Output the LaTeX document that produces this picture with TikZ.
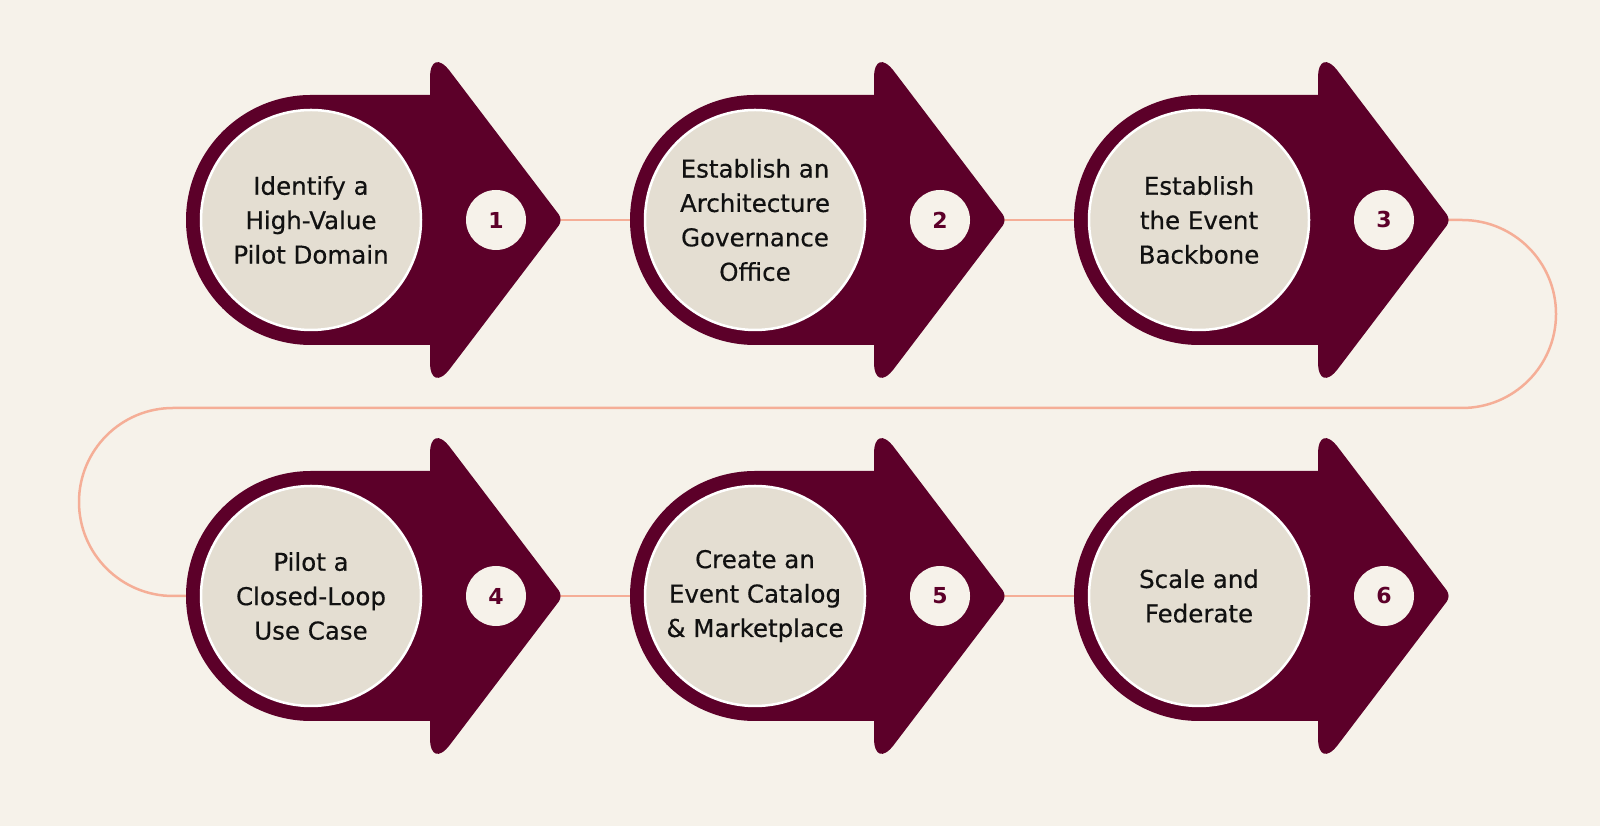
\documentclass[tikz,border=0pt]{standalone}
\usepackage{fontspec}
\setmainfont{DejaVu Sans}
\newfontfamily\stepfont{DejaVu Sans}[FakeBold=0.5]
\usepackage{tikz}
\usetikzlibrary{shapes,positioning,backgrounds}

\definecolor{Wine}{HTML}{5C0029}
\definecolor{Paper}{HTML}{F6F2EA}
\definecolor{Sand}{HTML}{E4DED2}
\definecolor{Salmon}{HTML}{F5AE97}
\definecolor{Ink}{HTML}{111111}

\begin{document}
\begin{tikzpicture}[x=1pt, y=1pt]
			\tikzstyle{Tag}		= [fill=Wine]
			\tikzstyle{Inner}	= [circle, draw=white, line width=2.5pt, fill=Sand, minimum size=220pt, inner sep=0pt, align=center, text=Ink, font=\stepfont\fontsize{24.5}{34.4}\selectfont]
			\tikzstyle{Num}		= [circle, fill=Paper, minimum size=60pt, inner sep=0pt, text=Wine, font=\fontsize{22}{22}\selectfont\bfseries]
			\tikzstyle{Link}	= [line width=2.5pt, Salmon]

			\useasboundingbox (0, 0) rectangle (1600, 826);
			\fill[Paper] (0, 0) rectangle (1600, 826);

			\coordinate (c1) at (311, 606);
			\coordinate (c2) at (755, 606);
			\coordinate (c3) at (1199, 606);
			\coordinate (c4) at (311, 230);
			\coordinate (c5) at (755, 230);
			\coordinate (c6) at (1199, 230);

			\draw [-] (c1) to (c2) [Link];
			\draw [-] (c2) to (c3) [Link];
			\draw [-, Link, rounded corners=94pt] (c3) -- (1556, 606) -- (1556, 418) -- (79, 418) -- (79, 230) -- (c4);
			\draw [-] (c4) to (c5) [Link];
			\draw [-] (c5) to (c6) [Link];

			\fill[Tag] (311, 731) arc[start angle=90, end angle=270, radius=125pt] -- ++(119, 0) [rounded corners=33pt] -- ++(0, -50) [rounded corners=7pt] -- ++(133, 175) [rounded corners=33pt] -- ++(-133, 175) [sharp corners] -- ++(0, -50) -- cycle;
			\fill[Tag] (755, 731) arc[start angle=90, end angle=270, radius=125pt] -- ++(119, 0) [rounded corners=33pt] -- ++(0, -50) [rounded corners=7pt] -- ++(133, 175) [rounded corners=33pt] -- ++(-133, 175) [sharp corners] -- ++(0, -50) -- cycle;
			\fill[Tag] (1199, 731) arc[start angle=90, end angle=270, radius=125pt] -- ++(119, 0) [rounded corners=33pt] -- ++(0, -50) [rounded corners=7pt] -- ++(133, 175) [rounded corners=33pt] -- ++(-133, 175) [sharp corners] -- ++(0, -50) -- cycle;
			\fill[Tag] (311, 355) arc[start angle=90, end angle=270, radius=125pt] -- ++(119, 0) [rounded corners=33pt] -- ++(0, -50) [rounded corners=7pt] -- ++(133, 175) [rounded corners=33pt] -- ++(-133, 175) [sharp corners] -- ++(0, -50) -- cycle;
			\fill[Tag] (755, 355) arc[start angle=90, end angle=270, radius=125pt] -- ++(119, 0) [rounded corners=33pt] -- ++(0, -50) [rounded corners=7pt] -- ++(133, 175) [rounded corners=33pt] -- ++(-133, 175) [sharp corners] -- ++(0, -50) -- cycle;
			\fill[Tag] (1199, 355) arc[start angle=90, end angle=270, radius=125pt] -- ++(119, 0) [rounded corners=33pt] -- ++(0, -50) [rounded corners=7pt] -- ++(133, 175) [rounded corners=33pt] -- ++(-133, 175) [sharp corners] -- ++(0, -50) -- cycle;

			\node (s1) at (c1) [Inner] {Identify a\\High-Value\\Pilot Domain};
			\node (s2) at (c2) [Inner] {Establish an\\Architecture\\Governance\\Office};
			\node (s3) at (c3) [Inner] {Establish\\the Event\\Backbone};
			\node (s4) at (c4) [Inner] {Pilot a\\Closed-Loop\\Use Case};
			\node (s5) at (c5) [Inner] {Create an\\Event Catalog\\\& Marketplace};
			\node (s6) at (c6) [Inner] {Scale and\\Federate};

			\node (n1) [Num, right=185pt of c1, anchor=center] {1};
			\node (n2) [Num, right=185pt of c2, anchor=center] {2};
			\node (n3) [Num, right=185pt of c3, anchor=center] {3};
			\node (n4) [Num, right=185pt of c4, anchor=center] {4};
			\node (n5) [Num, right=185pt of c5, anchor=center] {5};
			\node (n6) [Num, right=185pt of c6, anchor=center] {6};
		\end{tikzpicture}
\end{document}
